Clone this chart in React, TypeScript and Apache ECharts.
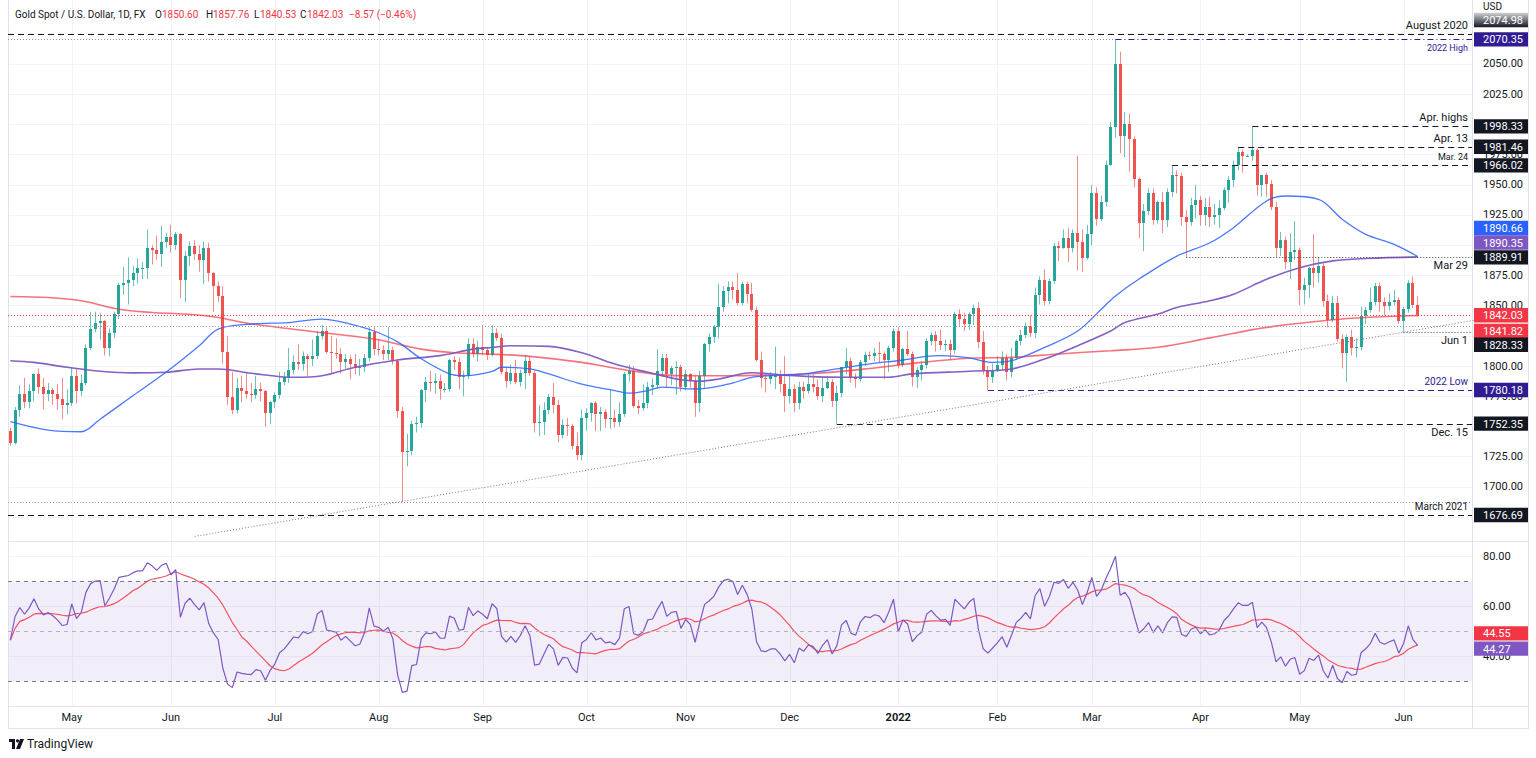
import React, { useEffect, useRef } from 'react';
import * as echarts from 'echarts';

// daily candles, one array per month: [open, high, low, close]
const apr21 = [
  [1746, 1749, 1734, 1736], [1736, 1766, 1735, 1764], [1764, 1784, 1758, 1777], [1777, 1790, 1765, 1770],
  [1770, 1785, 1765, 1779], [1779, 1794, 1771, 1793], [1793, 1798, 1777, 1783], [1783, 1790, 1764, 1777],
  [1777, 1786, 1771, 1780], [1780, 1782, 1768, 1777], [1777, 1785, 1764, 1773], [1773, 1790, 1756, 1768],
  [1768, 1781, 1760, 1769],
];
const may21 = [
  [1769, 1799, 1767, 1792], [1792, 1798, 1769, 1779], [1779, 1793, 1775, 1786], [1786, 1818, 1784, 1815],
  [1815, 1845, 1813, 1831], [1831, 1845, 1828, 1836], [1836, 1844, 1822, 1837], [1837, 1838, 1809, 1815],
  [1815, 1831, 1808, 1827], [1827, 1845, 1823, 1843], [1843, 1869, 1839, 1867], [1867, 1882, 1859, 1869],
  [1869, 1890, 1851, 1871], [1871, 1883, 1866, 1877], [1877, 1889, 1868, 1881], [1881, 1886, 1872, 1881],
  [1881, 1913, 1872, 1898], [1898, 1900, 1884, 1896], [1896, 1908, 1888, 1893], [1893, 1916, 1882, 1903],
  [1903, 1910, 1898, 1907],
];
const jun21 = [
  [1907, 1917, 1894, 1900], [1900, 1911, 1896, 1909], [1909, 1910, 1856, 1871], [1871, 1895, 1853, 1891],
  [1891, 1903, 1883, 1899], [1899, 1904, 1888, 1893], [1893, 1900, 1878, 1888], [1888, 1903, 1868, 1898],
  [1898, 1902, 1870, 1877], [1877, 1878, 1845, 1866], [1866, 1870, 1853, 1858], [1858, 1866, 1802, 1812],
  [1812, 1825, 1768, 1774], [1774, 1795, 1760, 1764], [1764, 1790, 1761, 1782], [1782, 1792, 1770, 1779],
  [1779, 1795, 1773, 1777], [1777, 1786, 1770, 1776], [1776, 1792, 1773, 1781], [1781, 1786, 1771, 1779],
  [1779, 1780, 1750, 1761], [1761, 1771, 1752, 1770],
];
const jul21 = [
  [1770, 1778, 1765, 1776], [1776, 1795, 1773, 1787], [1787, 1795, 1784, 1791], [1791, 1815, 1786, 1797],
  [1797, 1809, 1793, 1803], [1803, 1818, 1797, 1802], [1802, 1812, 1796, 1808], [1808, 1810, 1792, 1806],
  [1806, 1822, 1800, 1808], [1808, 1829, 1806, 1825], [1825, 1834, 1822, 1829], [1829, 1832, 1810, 1812],
  [1812, 1825, 1794, 1811], [1811, 1823, 1806, 1810], [1810, 1815, 1794, 1803], [1803, 1810, 1798, 1806],
  [1806, 1809, 1789, 1802], [1802, 1810, 1793, 1798], [1798, 1806, 1792, 1799], [1799, 1810, 1795, 1807],
  [1807, 1832, 1804, 1828], [1828, 1832, 1809, 1814],
];
const aug21 = [
  [1814, 1822, 1809, 1813], [1813, 1817, 1805, 1810], [1810, 1832, 1805, 1813], [1813, 1816, 1801, 1804],
  [1804, 1806, 1757, 1763], [1763, 1766, 1687.7, 1729], [1729, 1744, 1717, 1730], [1730, 1755, 1726, 1752],
  [1752, 1758, 1745, 1753], [1753, 1781, 1749, 1780], [1780, 1791, 1770, 1787], [1787, 1796, 1779, 1786],
  [1786, 1794, 1777, 1788], [1788, 1793, 1772, 1781], [1781, 1786, 1778, 1781], [1781, 1806, 1779, 1805],
  [1805, 1808, 1797, 1803], [1803, 1807, 1781, 1791], [1791, 1796, 1775, 1792], [1792, 1823, 1789, 1818],
  [1818, 1823, 1807, 1810], [1810, 1821, 1804, 1816],
];
const sep21 = [
  [1816, 1834, 1809, 1813], [1813, 1816, 1805, 1809], [1809, 1834, 1808, 1827], [1827, 1831, 1821, 1823],
  [1823, 1827, 1793, 1795], [1795, 1799, 1782, 1788], [1788, 1801, 1785, 1794], [1794, 1805, 1785, 1787],
  [1787, 1797, 1783, 1794], [1794, 1809, 1781, 1804], [1804, 1808, 1792, 1794], [1794, 1796, 1745, 1753],
  [1753, 1768, 1742, 1754], [1754, 1770, 1743, 1764], [1764, 1777, 1760, 1774], [1774, 1786, 1761, 1768],
  [1768, 1772, 1737, 1743], [1743, 1756, 1740, 1751], [1751, 1757, 1742, 1750], [1750, 1752, 1731, 1734],
  [1734, 1745, 1722, 1726], [1726, 1764, 1722, 1757],
];
const oct21 = [
  [1757, 1765, 1746, 1761], [1761, 1770, 1754, 1769], [1769, 1771, 1746, 1760], [1760, 1766, 1746, 1762],
  [1762, 1764, 1749, 1756], [1756, 1781, 1748, 1757], [1757, 1764, 1749, 1754], [1754, 1770, 1750, 1760],
  [1760, 1795, 1758, 1793], [1793, 1801, 1787, 1796], [1796, 1800, 1765, 1767], [1767, 1772, 1760, 1765],
  [1765, 1785, 1763, 1769], [1769, 1787, 1765, 1783], [1783, 1790, 1776, 1784], [1784, 1814, 1781, 1796],
  [1796, 1810, 1791, 1807], [1807, 1810, 1782, 1793], [1793, 1800, 1784, 1798], [1798, 1804, 1776, 1799],
  [1799, 1801, 1779, 1783],
];
const nov21 = [
  [1783, 1797, 1780, 1793], [1793, 1794, 1782, 1788], [1788, 1792, 1758, 1769], [1769, 1796, 1762, 1792],
  [1792, 1819, 1782, 1818], [1818, 1827, 1812, 1824], [1824, 1834, 1819, 1832], [1832, 1868, 1823, 1849],
  [1849, 1866, 1845, 1862], [1862, 1870, 1852, 1865], [1865, 1870, 1855, 1863], [1863, 1877, 1850, 1852],
  [1852, 1870, 1850, 1868], [1868, 1870, 1852, 1860], [1860, 1869, 1845, 1846], [1846, 1849, 1804, 1805],
  [1805, 1812, 1782, 1790], [1790, 1794, 1778, 1789], [1789, 1795, 1785, 1792], [1792, 1816, 1781, 1792],
  [1792, 1797, 1778, 1785], [1785, 1808, 1762, 1775],
];
const dec21 = [
  [1775, 1792, 1769, 1781], [1781, 1785, 1762, 1769], [1769, 1787, 1764, 1783], [1783, 1787, 1773, 1779],
  [1779, 1793, 1777, 1785], [1785, 1793, 1778, 1783], [1783, 1789, 1772, 1775], [1775, 1791, 1770, 1782],
  [1782, 1792, 1781, 1787], [1787, 1789, 1766, 1771], [1771, 1784, 1752.35, 1778], [1778, 1799, 1774, 1799],
  [1799, 1815, 1793, 1804], [1804, 1807, 1786, 1791], [1791, 1794, 1782, 1789], [1789, 1805, 1787, 1803],
  [1803, 1812, 1800, 1809], [1809, 1812, 1805, 1808], [1808, 1815, 1804, 1811], [1811, 1820, 1803, 1810],
  [1810, 1812, 1789, 1805], [1805, 1817, 1795, 1815], [1815, 1831, 1812, 1829],
];
const jan22 = [
  [1829, 1832, 1798, 1801], [1801, 1815, 1799, 1814], [1814, 1829, 1808, 1810], [1810, 1812, 1783, 1791],
  [1791, 1799, 1782, 1797], [1797, 1804, 1788, 1801], [1801, 1823, 1798, 1821], [1821, 1828, 1817, 1826],
  [1826, 1829, 1812, 1821], [1821, 1830, 1813, 1817], [1817, 1822, 1812, 1818], [1818, 1822, 1805, 1813],
  [1813, 1845, 1810, 1843], [1843, 1847, 1833, 1839], [1839, 1844, 1829, 1835], [1835, 1845, 1830, 1843],
  [1843, 1851, 1834, 1848], [1848, 1853, 1815, 1820], [1820, 1829, 1793, 1797], [1797, 1800, 1780.18, 1791],
  [1791, 1802, 1786, 1796],
];
const feb22 = [
  [1796, 1808, 1795, 1801], [1801, 1812, 1796, 1807], [1807, 1810, 1788, 1795], [1795, 1815, 1791, 1807],
  [1807, 1822, 1806, 1821], [1821, 1830, 1817, 1826], [1826, 1836, 1823, 1833], [1833, 1842, 1824, 1827],
  [1827, 1865, 1823, 1859], [1859, 1874, 1851, 1871], [1871, 1880, 1850, 1854], [1854, 1872, 1851, 1870],
  [1870, 1902, 1868, 1899], [1899, 1903, 1887, 1898], [1898, 1913, 1897, 1906], [1906, 1914, 1886, 1898],
  [1898, 1913, 1894, 1910], [1910, 1974, 1879, 1903], [1903, 1913, 1878, 1889], [1889, 1917, 1888, 1909],
];
const mar22 = [
  [1909, 1950, 1900, 1943], [1943, 1948, 1916, 1922], [1922, 1941, 1920, 1936], [1936, 1970, 1932, 1966],
  [1966, 2002, 1966, 1998], [1998, 2070.35, 1989, 2050], [2050, 2060, 1976, 1990], [1990, 2010, 1973, 2000],
  [2000, 2009, 1961, 1988], [1988, 1990, 1948, 1955], [1955, 1956, 1906, 1918], [1918, 1934, 1895, 1928],
  [1928, 1947, 1925, 1943], [1943, 1947, 1917, 1921], [1921, 1937, 1918, 1936], [1936, 1944, 1910, 1921],
  [1921, 1947, 1915, 1944], [1944, 1966.02, 1940, 1958], [1958, 1962, 1943, 1957], [1957, 1960, 1916, 1923],
  [1923, 1929, 1889.91, 1919], [1919, 1939, 1916, 1933], [1933, 1950, 1922, 1937],
];
const apr22 = [
  [1937, 1941, 1916, 1925], [1925, 1939, 1916, 1932], [1932, 1940, 1915, 1923], [1923, 1934, 1917, 1925],
  [1925, 1937, 1914, 1931], [1931, 1948, 1929, 1946], [1946, 1957, 1935, 1954], [1954, 1970, 1948, 1966],
  [1966, 1981.46, 1962, 1977], [1977, 1979, 1960, 1974], [1974, 1975, 1973, 1974], [1974, 1998.33, 1970, 1979],
  [1979, 1980, 1941, 1950], [1950, 1958, 1940, 1958], [1958, 1960, 1940, 1951], [1951, 1954, 1929, 1932],
  [1932, 1936, 1890, 1898], [1898, 1911, 1891, 1904], [1904, 1907, 1880, 1886], [1886, 1910, 1872, 1894],
  [1894, 1920, 1888, 1896],
];
const may22 = [
  [1896, 1898, 1850, 1863], [1863, 1873, 1851, 1867], [1867, 1882, 1856, 1881], [1881, 1909, 1865, 1877],
  [1877, 1890, 1869, 1883], [1883, 1885, 1849, 1854], [1854, 1859, 1832, 1838], [1838, 1858, 1836, 1852],
  [1852, 1858, 1820, 1822], [1822, 1826, 1798, 1811], [1811, 1826, 1787, 1824], [1824, 1830, 1809, 1815],
  [1815, 1823, 1807, 1816], [1816, 1849, 1813, 1841], [1841, 1849, 1835, 1846], [1846, 1865, 1844, 1853],
  [1853, 1869, 1850, 1866], [1866, 1869, 1845, 1853], [1853, 1857, 1842, 1850], [1850, 1860, 1846, 1853],
  [1853, 1863, 1850, 1855], [1855, 1857, 1835, 1837],
];
const jun22 = [
  [1837, 1849, 1828.33, 1847], [1847, 1871, 1844, 1869], [1869, 1874, 1848, 1850.6], [1850.6, 1857.76, 1840.53, 1842.03],
];

const candles = [apr21, may21, jun21, jul21, aug21, sep21, oct21, nov21, dec21, jan22, feb22, mar22, apr22, may22, jun22].flat();

const firstSession = '2021-04-14';
const emptySlots = 11;
const monthNames = ['Jan', 'Feb', 'Mar', 'Apr', 'May', 'Jun', 'Jul', 'Aug', 'Sep', 'Oct', 'Nov', 'Dec'];

// moving averages: [candle index, value]
const sma50 = [
  [0, 1754], [8, 1747], [15, 1745.6], [19, 1756], [26, 1775.6], [33, 1795], [40, 1816.8], [44, 1830.6],
  [51, 1834.7], [59, 1836], [66, 1838.8], [72, 1834.7], [77, 1829], [82, 1820], [87, 1806], [93, 1793.5],
  [96, 1792], [102, 1795.5], [104, 1799], [110, 1797.6], [114, 1793.5], [121, 1785], [128, 1779.7],
  [131, 1777.5], [135, 1779.7], [138, 1782.5], [145, 1781], [152, 1785], [157, 1790.7], [161, 1792],
  [168, 1793.5], [175, 1797.6], [182, 1801.7], [189, 1805], [194, 1808], [197, 1808.6], [203, 1806.7],
  [208, 1803], [212, 1804.4], [219, 1815.4], [226, 1829], [231, 1847], [234, 1858], [239, 1872],
  [247, 1891], [254, 1902], [259, 1914.5], [266, 1936.6], [270, 1940.7], [277, 1938], [282, 1921.5],
  [287, 1909], [293, 1900.7], [298, 1890.66],
];
const sma100 = [
  [0, 1804.4], [5, 1803], [12, 1799], [19, 1795.7], [26, 1794.3], [33, 1794.8], [40, 1797.6], [44, 1797.6],
  [51, 1794], [60, 1790.7], [66, 1792], [73, 1799], [82, 1805], [91, 1808.6], [98, 1814], [102, 1815.4],
  [106, 1816.8], [114, 1816.3], [121, 1811], [128, 1801.7], [135, 1794.8], [142, 1788.7], [146, 1787.5],
  [150, 1789.3], [157, 1794.5], [164, 1792.5], [171, 1791], [178, 1790.7], [186, 1790.7], [191, 1793.5],
  [203, 1795.7], [212, 1797.6], [219, 1805.8], [226, 1816.8], [233, 1829], [236, 1836], [243, 1843],
  [247, 1848.5], [254, 1854], [259, 1859.4], [266, 1871.8], [273, 1881.4], [280, 1887], [287, 1889],
  [298, 1890.35],
];
const sma200 = [
  [0, 1857.6], [8, 1856.7], [15, 1854], [23, 1847], [30, 1844.3], [37, 1843], [44, 1840.2], [50, 1835.5],
  [63, 1829], [77, 1822.3], [87, 1814], [94, 1811], [101, 1810], [110, 1808], [121, 1803], [131, 1796.3],
  [142, 1792], [152, 1792], [161, 1792.6], [171, 1794], [182, 1798], [193, 1803], [203, 1806.4],
  [212, 1807.2], [222, 1810], [233, 1812.7], [243, 1815.5], [254, 1823.3], [266, 1832], [280, 1838.3],
  [287, 1840.2], [298, 1841.82],
];

const priceLabels = [1700, 1725, 1775, 1800, 1850, 1875, 1925, 1950, 1975, 2025, 2050];
const rsiLabels = [40, 60, 80];
const rsiLevels = [70, 50, 30];
const rsiPeriod = 14;
const rsiSeed = 5;
const rsiLast = 44.27;
const rsiMaLast = 44.55;

// horizontal drawings: price, first candle index (null = whole width), text
const drawings = [
  { price: 2074.98, from: null, to: null, kind: 'dash', text: 'August 2020', side: 'above' },
  { price: 2070.35, from: null, to: 234, kind: 'dot', text: '', side: '' },
  { price: 2070.35, from: 234, to: null, kind: 'purpleDashDot', text: '2022 High', side: 'below' },
  { price: 1998.33, from: 263, to: null, kind: 'dash', text: 'Apr. highs', side: 'above' },
  { price: 1981.46, from: 260, to: null, kind: 'dash', text: 'Apr. 13', side: 'above' },
  { price: 1966.02, from: 246, to: null, kind: 'dash', text: 'Mar. 24', side: 'above' },
  { price: 1889.91, from: 249, to: null, kind: 'dotDark', text: 'Mar 29', side: 'below' },
  { price: 1842.03, from: null, to: null, kind: 'priceDot', text: '', side: '' },
  { price: 1832.8, from: null, to: null, kind: 'dot', text: '', side: '' },
  { price: 1828.33, from: 295, to: null, kind: 'dotDark', text: 'Jun 1', side: 'below' },
  { price: 1780.18, from: 207, to: null, kind: 'purpleDash', text: '2022 Low', side: 'above' },
  { price: 1752.35, from: 175, to: null, kind: 'dash', text: 'Dec. 15', side: 'below' },
  { price: 1687.7, from: null, to: null, kind: 'dot', text: '', side: '' },
  { price: 1676.69, from: null, to: null, kind: 'dash', text: 'March 2021', side: 'above' },
];
const trendAnchors = [[82, 1687.7], [295, 1828.33]];

const priceTags = [
  { value: 2074.98, kind: 'fade' }, { value: 2070.35, kind: 'navy' }, { value: 1998.33, kind: 'black' },
  { value: 1981.46, kind: 'black' }, { value: 1966.02, kind: 'black' }, { value: 1890.66, kind: 'blue' },
  { value: 1890.35, kind: 'purple' }, { value: 1889.91, kind: 'black' }, { value: 1842.03, kind: 'red' },
  { value: 1841.82, kind: 'red' }, { value: 1828.33, kind: 'black' }, { value: 1780.18, kind: 'navy' },
  { value: 1752.35, kind: 'black' }, { value: 1676.69, kind: 'black' },
];

const FONT = 'Roboto, "Liberation Sans", sans-serif';
const INK = '#131722';
const GRID = '#f0f3fa';
const FRAME = '#e0e3eb';
const NAVY = '#311b92';
const tagFill: Record<string, any> = {
  black: INK, navy: NAVY, blue: '#2962ff', purple: '#7e57c2', red: '#f23645',
  fade: new echarts.graphic.LinearGradient(0, 0, 0, 1, [
    { offset: 0, color: 'rgba(19,23,34,0.2)' }, { offset: 1, color: INK },
  ]),
};
const tagNudge: Record<string, number> = { '2074.98': -13.7, '1890.66': -28.5, '1890.35': -14.3, '1841.82': 15.5, '1828.33': 13 };
const lineKinds: Record<string, any> = {
  dash: { stroke: INK, lineDash: [6, 4] },
  dot: { stroke: '#9598a1', lineDash: [1, 2] },
  dotDark: { stroke: '#434651', lineDash: [1, 2] },
  purpleDash: { stroke: NAVY, lineDash: [6, 4] },
  purpleDashDot: { stroke: NAVY, lineDash: [6, 3, 1, 3] },
  priceDot: { stroke: '#f23645', lineDash: [1, 2] },
};
const labelFont: Record<string, string> = {
  'August 2020': '11px', '2022 High': '9px', 'Apr. highs': '11px', 'Apr. 13': '11px', 'Mar. 24': '9px',
  'Mar 29': '11px', 'Jun 1': '11px', '2022 Low': '10px', 'Dec. 15': '11px', 'March 2021': '10px',
};

const L = 8;
const R = 1472;
const PANE_BOTTOM = 541;
const RSI_BOTTOM = 706;

function tradingDays(start: string, count: number) {
  const out: string[] = [];
  const d = new Date(start + 'T00:00:00Z');
  while (out.length < count) {
    const wd = d.getUTCDay();
    if (wd !== 0 && wd !== 6) out.push(d.toISOString().slice(0, 10));
    d.setUTCDate(d.getUTCDate() + 1);
  }
  return out;
}

function wilderRsi(rows: number[][], period: number) {
  let gain = rsiSeed;
  let loss = rsiSeed;
  let prev = rows[0][0];
  return rows.map((k) => {
    const ch = k[3] - prev;
    prev = k[3];
    gain = (gain * (period - 1) + Math.max(ch, 0)) / period;
    loss = (loss * (period - 1) + Math.max(-ch, 0)) / period;
    return 100 - 100 / (1 + gain / loss);
  });
}

function movingAverage(v: number[], n: number) {
  return v.map((_, i) => {
    const s = v.slice(Math.max(0, i - n + 1), i + 1);
    return s.reduce((a, b) => a + b, 0) / s.length;
  });
}

const App: React.FC = () => {
  const chartRef = useRef<HTMLDivElement>(null);

  useEffect(() => {
    if (!chartRef.current) return;
    const chart = echarts.init(chartRef.current, null, { renderer: 'svg' });

    const days = tradingDays(firstSession, candles.length + emptySlots);
    const monthStart = days.map((d, i) => i > 0 && d.slice(0, 7) !== days[i - 1].slice(0, 7));
    const rsi = wilderRsi(candles, rsiPeriod);
    const rsiMa = movingAverage(rsi, rsiPeriod);

    const renderCandle = (params: any, api: any) => {
      const i = api.value(0);
      const o = api.value(1);
      const h = api.value(2);
      const l = api.value(3);
      const c = api.value(4);
      const po = api.coord([i, o]);
      const yc = api.coord([i, c])[1];
      const yh = api.coord([i, h])[1];
      const yl = api.coord([i, l])[1];
      const up = c >= o;
      const left = Math.round(po[0] - 1.5);
      const top = Math.round(Math.min(po[1], yc));
      const bottom = Math.round(Math.max(po[1], yc));
      return {
        type: 'group',
        children: [
          { type: 'rect', shape: { x: left + 1, y: yh, width: 1, height: Math.max(1, yl - yh) }, style: { fill: up ? '#6cc1b8' : '#f38b89' } },
          { type: 'rect', shape: { x: left, y: top, width: 3, height: Math.max(1, bottom - top) }, style: { fill: up ? '#26a69a' : '#ef5350' } },
        ],
      };
    };

    const maLine = (data: number[][], color: string, width: number, opacity: number) => ({
      type: 'line', xAxisIndex: 0, yAxisIndex: 0, data, showSymbol: false, smooth: 0.35, z: 4,
      lineStyle: { color, width, opacity }, silent: true,
    });

    const option: any = {
      animation: false,
      backgroundColor: '#ffffff',
      textStyle: { fontFamily: FONT },
      grid: [
        { left: L, right: 1536 - R, top: 3.5, height: 543.8 },
        { left: L, right: 1536 - R, top: 541.3, height: 165 },
      ],
      xAxis: [
        {
          type: 'category', gridIndex: 0, data: days, boundaryGap: true,
          axisLine: { show: false }, axisTick: { show: false }, axisLabel: { show: false }, splitLine: { show: false },
        },
        {
          type: 'category', gridIndex: 1, data: days, boundaryGap: true,
          axisLine: { show: false }, axisTick: { show: false }, splitLine: { show: false },
          axisLabel: {
            interval: (i: number) => monthStart[i],
            formatter: (v: string) => {
              const m = Number(v.slice(5, 7)) - 1;
              return m === 0 ? `{y|${v.slice(0, 4)}}` : monthNames[m];
            },
            color: INK, fontSize: 11, margin: 6, fontFamily: FONT,
            rich: { y: { fontWeight: 'bold', fontSize: 11, color: INK, fontFamily: FONT } },
          },
        },
      ],
      yAxis: [
        {
          type: 'value', gridIndex: 0, position: 'right', min: 1650, max: 2100, interval: 25,
          axisLine: { show: false }, axisTick: { show: false },
          splitLine: { show: true, showMinLine: false, showMaxLine: false, lineStyle: { color: GRID } },
          axisLabel: { formatter: (v: number) => (priceLabels.includes(v) ? v.toFixed(2) : ''), color: INK, fontSize: 11, margin: 11, fontFamily: FONT },
        },
        {
          type: 'value', gridIndex: 1, position: 'right', min: 20, max: 86, interval: 20,
          axisLine: { show: false }, axisTick: { show: false },
          splitLine: { show: true, showMinLine: false, showMaxLine: false, lineStyle: { color: GRID } },
          axisLabel: { formatter: (v: number) => (rsiLabels.includes(v) ? v.toFixed(2) : ''), color: INK, fontSize: 11, margin: 11, fontFamily: FONT },
        },
      ],
      series: [
        {
          type: 'custom', xAxisIndex: 0, yAxisIndex: 0, z: 3, silent: true,
          data: candles.map((k, i) => [i, k[0], k[1], k[2], k[3]]),
          encode: { x: 0, y: [1, 2, 3, 4] },
          renderItem: renderCandle,
        },
        maLine(sma200, '#f23645', 1.6, 0.7),
        maLine(sma100, '#7e57c2', 1.6, 0.95),
        maLine(sma50, '#2962ff', 1.3, 0.85),
        {
          type: 'line', xAxisIndex: 1, yAxisIndex: 1, showSymbol: false, silent: true, z: 3,
          data: rsiMa.map((v, i) => [i, v]),
          lineStyle: { color: '#f23645', width: 1.2, opacity: 0.85 },
          markArea: {
            silent: true,
            itemStyle: { color: 'rgba(126,87,194,0.1)' },
            data: [[{ yAxis: rsiLevels[2] }, { yAxis: rsiLevels[0] }]],
          },
          markLine: {
            silent: true, symbol: ['none', 'none'], label: { show: false },
            lineStyle: { color: '#787b86', width: 1, type: [4, 4] },
            data: rsiLevels.map((v) => (v === 50 ? { yAxis: v, lineStyle: { color: '#b2b5be', type: [4, 4] } } : { yAxis: v })),
          },
        },
        {
          type: 'line', xAxisIndex: 1, yAxisIndex: 1, showSymbol: false, silent: true, z: 4,
          data: rsi.map((v, i) => [i, v]),
          lineStyle: { color: '#7e57c2', width: 1.2 },
        },
      ],
    };

    chart.setOption(option);

    const toX = (i: number) => chart.convertToPixel({ xAxisIndex: 0 }, i) as number;
    const toY = (p: number) => chart.convertToPixel({ yAxisIndex: 0 }, p) as number;
    const toYr = (v: number) => chart.convertToPixel({ yAxisIndex: 1 }, v) as number;
    const crisp = (v: number) => Math.round(v) + 0.5;

    const g: any[] = [];
    const hline = (x1: number, x2: number, y: number, style: any, z = 1) =>
      g.push({ type: 'line', silent: true, z, shape: { x1, y1: y, x2, y2: y }, style: { lineWidth: 1, fill: null, ...style } });
    const vline = (x: number, y1: number, y2: number, style: any, z = 1) =>
      g.push({ type: 'line', silent: true, z, shape: { x1: x, y1, x2: x, y2 }, style: { lineWidth: 1, fill: null, ...style } });
    const text = (x: number, y: number, t: string, fill: string, font: string, align = 'left', z = 30) =>
      g.push({ type: 'text', silent: true, z, style: { x, y, text: t, fill, font, align, textAlign: align, verticalAlign: 'middle', textVerticalAlign: 'middle' } });

    // month grid lines through both panes
    monthStart.forEach((m, i) => {
      if (m) vline(crisp(toX(i)), 0, RSI_BOTTOM, { stroke: GRID }, 0);
    });

    // frame
    vline(L + 0.5, 0, 728, { stroke: FRAME }, 2);
    vline(R + 0.5, 0, 728, { stroke: FRAME }, 2);
    vline(1528.5, 0, 728, { stroke: FRAME }, 2);
    hline(L, 1529, PANE_BOTTOM + 0.5, { stroke: FRAME }, 2);
    hline(L, 1529, RSI_BOTTOM + 0.5, { stroke: FRAME }, 2);
    hline(L, 1529, 728.5, { stroke: FRAME }, 2);

    // horizontal drawings
    drawings.forEach((d) => {
      const y = crisp(toY(d.price));
      const x1 = d.from === null ? L : toX(d.from);
      const x2 = d.to === null ? R : toX(d.to);
      hline(x1, x2, y, lineKinds[d.kind], 10);
      if (d.text) {
        const purple = d.kind.startsWith('purple');
        text(R - 4, d.side === 'above' ? y - 9 : y + 8, d.text, purple ? NAVY : INK, `${labelFont[d.text]} ${FONT}`, 'right', 11);
      }
    });

    // trend line through the two lows, extended to the pane bottom and right edge
    const [a, b] = trendAnchors;
    const slope = (b[1] - a[1]) / (b[0] - a[0]);
    const iLeft = a[0] - (a[1] - 1659) / slope;
    const iRight = candles.length + emptySlots - 0.5;
    g.push({
      type: 'line', silent: true, z: 10,
      shape: { x1: toX(iLeft), y1: toY(1659), x2: toX(iRight), y2: toY(b[1] + slope * (iRight - b[0])) },
      style: { stroke: '#787b86', lineWidth: 1, lineDash: [1, 2] },
    });

    // price scale tags
    priceTags.forEach((t) => {
      const cy = toY(t.value) + (tagNudge[t.value.toFixed(2)] || 0);
      g.push({ type: 'rect', silent: true, z: 40, shape: { x: R + 2, y: cy - 7.2, width: 1528 - R - 2, height: 14.4 }, style: { fill: tagFill[t.kind] } });
      text(R + 11, cy + 0.5, t.value.toFixed(2), '#ffffff', `11px ${FONT}`, 'left', 41);
    });
    text(R + 11, 6.5, 'USD', INK, `10px ${FONT}`, 'left', 42);

    // rsi tags
    [
      { v: rsiMaLast, fill: '#f23645', nudge: -11.6 },
      { v: rsiLast, fill: '#7e57c2', nudge: 3 },
    ].forEach((t) => {
      const cy = toYr(t.v) + t.nudge;
      g.push({ type: 'rect', silent: true, z: 40, shape: { x: R + 2, y: cy - 7.2, width: 1528 - R - 2, height: 14.4 }, style: { fill: t.fill } });
      text(R + 11, cy + 0.5, t.v.toFixed(2), '#ffffff', `11px ${FONT}`, 'left', 41);
    });

    // legend header
    const last = candles[candles.length - 1];
    const prevClose = candles[candles.length - 2][3];
    const chg = last[3] - prevClose;
    const red = '#f23645';
    const hf = `10px ${FONT}`;
    text(15, 14, 'Gold Spot / U.S. Dollar, 1D, FX', INK, hf);
    text(155, 14, 'O', INK, hf);
    text(162, 14, last[0].toFixed(2), red, hf);
    text(206, 14, 'H', INK, hf);
    text(213, 14, last[1].toFixed(2), red, hf);
    text(254, 14, 'L', INK, hf);
    text(260, 14, last[2].toFixed(2), red, hf);
    text(300, 14, 'C', INK, hf);
    text(307, 14, last[3].toFixed(2), red, hf);
    text(349, 14, `\u2212${Math.abs(chg).toFixed(2)} (\u2212${Math.abs((chg / prevClose) * 100).toFixed(2)}%)`, red, hf);

    // TradingView mark
    g.push({ type: 'rect', silent: true, z: 30, shape: { x: 9, y: 739, width: 6, height: 3 }, style: { fill: INK } });
    g.push({ type: 'rect', silent: true, z: 30, shape: { x: 12, y: 739, width: 3, height: 10 }, style: { fill: INK } });
    g.push({ type: 'circle', silent: true, z: 30, shape: { cx: 17.5, cy: 740.8, r: 1.6 }, style: { fill: INK } });
    g.push({ type: 'polygon', silent: true, z: 30, shape: { points: [[20, 739], [24, 739], [20, 749], [16, 749]] }, style: { fill: INK } });
    text(27, 744, 'TradingView', INK, `12px ${FONT}`, 'left', 30);

    chart.setOption({ graphic: g });

    return () => {
      chart.dispose();
    };
  }, []);

  return (
    <div
      ref={chartRef}
      style={{ position: 'fixed', left: 0, top: 0, width: '1536px', height: '758px', background: '#ffffff' }}
    />
  );
};

export default App;
